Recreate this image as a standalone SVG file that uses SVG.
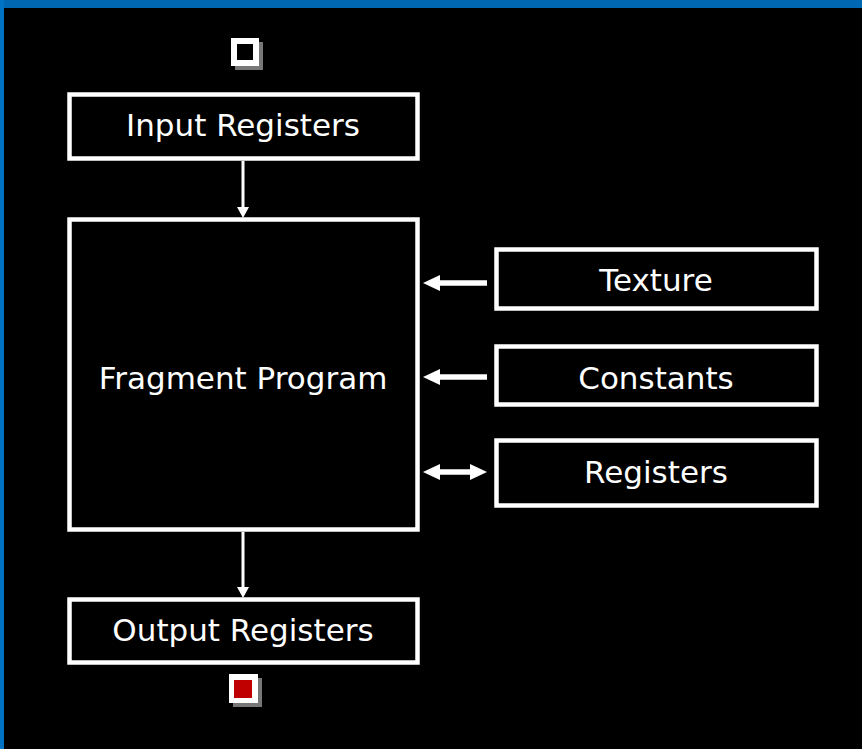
<svg xmlns="http://www.w3.org/2000/svg" width="862" height="749" viewBox="0 0 862 749">
<defs>
<style>
.box{fill:#000;stroke:#fff;stroke-width:4.5}
.lbl{fill:#fff;font-family:"DejaVu Sans","Liberation Sans",sans-serif;font-size:31px;text-anchor:middle}
.ln{stroke:#fff;fill:none}
.hd{fill:#fff}
</style>
</defs>
<rect x="0" y="0" width="862" height="749" fill="#000"/>
<rect x="0" y="0" width="862" height="8" fill="#0067b3"/>
<rect x="0" y="0" width="4" height="749" fill="#0074c4"/>
<g id="start-marker">
<rect x="235" y="42" width="28" height="28" fill="#777"/>
<rect x="231" y="38" width="28" height="28" fill="#fff"/>
<rect x="237" y="44" width="16" height="16" fill="#000"/>
</g>
<g id="input-registers">
<rect class="box" x="69.5" y="94.5" width="348" height="64"/>
<text class="lbl" x="243" y="136">Input Registers</text>
</g>
<g id="fragment-program">
<rect class="box" x="69.5" y="219.5" width="348" height="310"/>
<text class="lbl" x="243" y="389">Fragment Program</text>
</g>
<g id="output-registers">
<rect class="box" x="69.5" y="599.5" width="348" height="63"/>
<text class="lbl" x="243" y="641">Output Registers</text>
</g>
<g id="texture">
<rect class="box" x="496.5" y="249.5" width="320" height="59"/>
<text class="lbl" x="656" y="291">Texture</text>
</g>
<g id="constants">
<rect class="box" x="496.5" y="346.5" width="320" height="58"/>
<text class="lbl" x="656" y="389">Constants</text>
</g>
<g id="registers">
<rect class="box" x="496.5" y="440.5" width="320" height="65"/>
<text class="lbl" x="656" y="483">Registers</text>
</g>
<g id="end-marker">
<rect x="233" y="678" width="29" height="29" fill="#777"/>
<rect x="229" y="674" width="29" height="29" fill="#fff"/>
<rect x="234" y="680" width="18" height="18" fill="#c00000"/>
</g>
<g id="connectors">
<line class="ln" x1="243" y1="161" x2="243" y2="208" stroke-width="3"/>
<polygon class="hd" points="237,207 249,207 243,218"/>
<line class="ln" x1="243" y1="532" x2="243" y2="588" stroke-width="3"/>
<polygon class="hd" points="237,587 249,587 243,598"/>
<line class="ln" x1="436" y1="283" x2="487" y2="283" stroke-width="5.5"/>
<polygon class="hd" points="423,283 440,275 440,291"/>
<line class="ln" x1="436" y1="377" x2="487" y2="377" stroke-width="5.5"/>
<polygon class="hd" points="423,377 440,369 440,385"/>
<line class="ln" x1="436" y1="472" x2="474" y2="472" stroke-width="5.5"/>
<polygon class="hd" points="423,472 440,464 440,480"/>
<polygon class="hd" points="487,472 470,464 470,480"/>
</g>
</svg>
